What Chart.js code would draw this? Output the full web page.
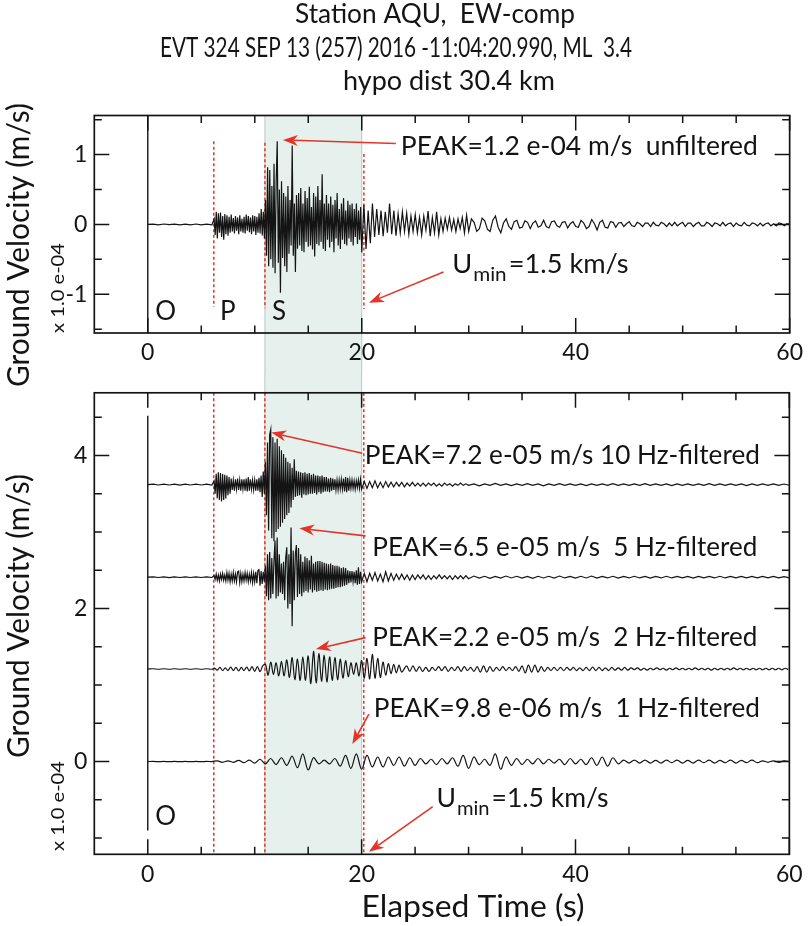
<!DOCTYPE html>
<html>
<head>
<meta charset="utf-8">
<title>Station AQU EW-comp</title>
<script src="https://cdn.jsdelivr.net/npm/chart.js@4.4.1/dist/chart.umd.min.js"></script>
<style>
  html, body { margin: 0; padding: 0; background: #fff; }
  #wrap { position: relative; width: 809px; height: 926px; overflow: hidden; }
  #wrap canvas { position: absolute; left: 0; }
  #topChart { top: 0; width: 809px; height: 400px; }
  #bottomChart { top: 372px; width: 809px; height: 554px; }
</style>
</head>
<body>
<div id="wrap">
  <canvas id="topChart" width="809" height="400"></canvas>
  <canvas id="bottomChart" width="809" height="554"></canvas>
</div>
<script>
// ---- picks and window (s) ----
const pickTimes = [6.17, 10.95, 20.2];      // P, S, Umin=1.5 km/s
const shadeWindow = [10.95, 20.0];

// ---- axis ticks ----
const xMajorTicks = [0, 20, 40, 60];
const xMinorTicks = [5, 10, 15, 25, 30, 35, 45, 50, 55];
const topMajorTicks = [-1, 0, 1];
const topMinorTicks = [-1.5, -0.5, 0.5, 1.5];
const bottomMajorTicks = [0, 2, 4];
const bottomMinorTicks = [-1, -0.5, 0.5, 1, 1.5, 2.5, 3, 3.5, 4.5];

// ---- unfiltered trace (x 1e-4 m/s) ----
const unfiltQuiet = [0, 0.005, -0.005, 0.006, -0.004, 0.005, -0.006, 0.004, -0.005, 0.006, -0.005, 0.005, -0.006]; // 0-6 s, 0.5 s
const unfiltP = [0.08, -0.15, 0.18, -0.2, 0.16, -0.12, 0.17, -0.18, 0.12, -0.22,
  0.15, -0.14, 0.13, -0.16, 0.11, -0.12, 0.14, -0.1, 0.09, -0.13,
  0.12, -0.09, 0.1, -0.14, 0.13, -0.1, 0.08, -0.12, 0.11, -0.13,
  0.14, -0.09, 0.12, -0.11, 0.1, -0.14, 0.13, -0.1, 0.12, -0.15,
  0.11, -0.12, 0.16, -0.13, 0.22, -0.16, 0.18, -0.2]; // 6.2-10.9 s, 0.1 s
const unfiltS = [0.35, -0.45, 0.82, -0.6, 0.78, -0.5, 0.55, -0.62, 0.87, -0.7,
  0.6, 1.19, -0.55, 0.5, -0.98, 0.62, -0.48, 0.45, -0.6, 0.4,
  -0.68, 0.55, -0.42, 0.35, -0.3, 1.13, -0.45, 0.3, -0.68, 0.42,
  -0.35, 0.45, -0.3, 0.52, -0.38, 0.3, -0.4, 0.48, -0.25, 0.38,
  -0.32, 0.54, -0.3, 0.25, -0.36, 0.45, -0.46, 0.4, -0.28, 0.55,
  -0.3, 0.35, -0.25, 0.72, -0.35, 0.3, -0.38, 0.42, -0.22, 0.3,
  -0.33, 0.4, -0.25, 0.28, -0.4, 0.35, -0.2, 0.45, -0.3, 0.22,
  -0.35, 0.3, -0.22, 0.38, -0.28, 0.2, -0.3, 0.34, -0.2, 0.28,
  -0.25, 0.3, -0.3, 0.22, -0.18, 0.3, -0.28, 0.2, -0.22, 0.25,
  -0.4]; // 11-20 s, 0.1 s
const unfiltCoda = [0.28, -0.35, 0.2, -0.27, 0.3, -0.18, 0.22, -0.15, 0.2, -0.17,
  0.18, -0.12, 0.3, -0.14, 0.2, -0.16, 0.15, -0.12, 0.18, -0.1,
  0.16, -0.14, 0.12, -0.1, 0.14, -0.12, 0.1, -0.15, 0.12, -0.08,
  0.19, -0.17, 0.1, -0.12, 0.18, -0.15, 0.08, -0.1, 0.09, -0.07,
  0.1, -0.08, 0.07, -0.1, 0.08, -0.06, 0.1, -0.12, 0.13, -0.1]; // 20.2-30 s, 0.2 s
const unfiltTail = [0.08, 0.03, -0.1, -0.06, 0.09, 0.05, -0.07, -0.1, 0.06, 0.12, -0.04,
  -0.12, 0.02, 0.08, -0.03, -0.07, 0.04, 0.06, -0.05, -0.04, 0.05,
  0.03, -0.06, 0.02, 0.05, -0.04, -0.02, 0.06, -0.03, -0.05, 0.04,
  0.05, -0.02, -0.04, 0.03, 0.04, -0.05, 0.01, 0.04, -0.03, -0.04,
  0.06, 0.02, -0.06, -0.03, 0.07, 0.01, -0.08, 0.03, 0.06, -0.04,
  -0.05, 0.04, 0.03, -0.04, 0.02, 0.03, -0.03, 0.01, 0.04, -0.02,
  -0.03, 0.03, 0.01, -0.03, 0.02, 0.02, -0.03, 0.03, -0.01, -0.02,
  0.03, 0.01, -0.03, 0.02, -0.02, 0.03, -0.02, 0.01, 0.03, -0.03,
  0.02, 0.02, -0.03, 0.01, 0.03, -0.02, -0.02, 0.03, 0.01, -0.03,
  0.02, 0.01, -0.02, 0.03, -0.02, 0.01, 0.02, -0.03, 0.02, -0.01,
  -0.02, 0.03, -0.01, -0.02, 0.02, 0.01, -0.02, 0.02, -0.02, 0.01,
  0.02, -0.02, 0.01, -0.02, 0.02, 0.01, -0.02, 0.01, 0]; // 30.25-60 s, 0.25 s

// ---- 10 Hz-filtered ----
const hz10Quiet = [0, 0.005, -0.005, 0.006, -0.005, 0.005, -0.006, 0.005, -0.005, 0.006, -0.005, 0.005, -0.005];
const hz10P = [0.05, -0.12, 0.14, -0.18, 0.16, -0.2, 0.15, -0.22, 0.14, -0.2,
  0.13, -0.18, 0.12, -0.14, 0.1, -0.12, 0.08, -0.07, 0.06, -0.08,
  0.07, -0.06, 0.08, -0.07, 0.06, -0.08, 0.07, -0.06, 0.07, -0.08,
  0.08, -0.09, 0.1, -0.08, 0.07, -0.06, 0.06, -0.07, 0.06, -0.08,
  0.07, -0.08, 0.09, -0.1, 0.12, -0.16, 0.17, -0.12];
const hz10S = [0.3, -0.4, 0.55, -0.6, 0.65, 0.72, -0.7, 0.62, -0.74, 0.55,
  -0.62, 0.6, -0.58, 0.5, -0.55, 0.45, -0.5, 0.4, -0.45, 0.35,
  -0.4, 0.3, -0.37, 0.28, -0.3, 0.22, -0.2, 0.33, -0.16, 0.18,
  -0.15, 0.17, -0.14, 0.16, -0.17, 0.15, -0.13, 0.16, -0.14, 0.14,
  -0.13, 0.15, -0.12, 0.13, -0.12, 0.14, -0.11, 0.12, -0.13, 0.12,
  -0.1, 0.11, -0.12, 0.12, -0.1, 0.1, -0.09, 0.1, -0.09, 0.08,
  -0.1, 0.09, -0.08, 0.08, -0.07, 0.07, -0.07, 0.06, -0.07, 0.06,
  -0.06, 0.07, -0.06, 0.08, -0.09, 0.1, -0.1, 0.09, -0.08, 0.06,
  -0.05, 0.06, -0.05, 0.05, -0.06, 0.05, -0.04, 0.06, -0.05, 0.07,
  -0.06];
const hz10Coda = [0.04, -0.05, 0.04, -0.04, 0.05, -0.04, 0.03, -0.04, 0.04, -0.03,
  0.03, -0.03, 0.03, -0.02, 0.03, -0.03, 0.02, -0.02, 0.03, -0.02,
  0.02, -0.02, 0.02, -0.02, 0.02, -0.01, 0.02, -0.02, 0.01, -0.02,
  0.02, -0.01, 0.01, -0.02, 0.01, -0.01, 0.02, -0.01, 0.01, -0.01]; // 20.25-30 s, 0.25 s
const hz10Tail = [0.01, -0.015, 0.01, -0.01, 0.015, -0.01, 0.01, -0.012, 0.01, -0.01,
  0.012, -0.01, 0.01, -0.015, 0.01, -0.01, 0.012, -0.01, 0.01, -0.01,
  0.01, -0.012, 0.01, -0.01, 0.01, -0.01, 0.012, -0.01, 0.01, -0.01,
  0.01, -0.01, 0.012, -0.01, 0.01, -0.01, 0.01, -0.012, 0.01, -0.01,
  0.01, -0.01, 0.01, -0.01, 0.012, -0.01, 0.01, -0.01, 0.01, -0.01,
  0.01, -0.012, 0.01, -0.01, 0.01, -0.01, 0.01, -0.01, 0.008, -0.008]; // 30.5-60 s, 0.5 s

// ---- 5 Hz-filtered ----
const hz5Quiet = [0, 0.004, -0.004, 0.004, -0.005, 0.004, -0.004, 0.005, -0.004, 0.004, -0.004, 0.005, -0.004];
const hz5P = [0.02, -0.03, 0.04, -0.04, 0.03, -0.05, 0.04, -0.03, 0.05, -0.04,
  0.03, -0.05, 0.06, -0.04, 0.05, -0.06, 0.04, -0.05, 0.06, -0.05,
  0.04, -0.06, 0.07, 0.08, -0.07, 0.05, -0.06, 0.04, -0.05, 0.06,
  -0.04, 0.05, -0.06, 0.04, -0.05, 0.06, -0.07, 0.05, -0.06, 0.07,
  -0.08, 0.09, 0.1, -0.11, 0.08, -0.09, 0.07, -0.06];
const hz5S = [0.15, -0.25, 0.3, -0.3, 0.33, -0.28, 0.25, -0.22, 0.2, 0.48,
  -0.28, 0.52, -0.25, 0.3, -0.2, 0.18, -0.22, 0.2, -0.3, 0.25,
  0.39, -0.41, 0.3, -0.35, 0.65, -0.64, 0.35, -0.3, 0.3, 0.42,
  -0.26, 0.38, -0.22, 0.3, -0.25, 0.2, -0.2, 0.27, -0.18, 0.25,
  -0.2, 0.22, -0.16, 0.28, -0.2, 0.18, -0.17, 0.2, -0.19, 0.21,
  -0.18, 0.21, -0.17, 0.2, -0.18, 0.19, -0.16, 0.18, -0.17, 0.17,
  -0.16, 0.18, -0.15, 0.16, -0.15, 0.15, -0.14, 0.15, -0.13, 0.14,
  -0.13, 0.12, -0.12, 0.13, -0.11, 0.12, -0.1, 0.09, -0.08, 0.08,
  -0.07, 0.08, -0.06, 0.07, -0.08, 0.09, -0.1, 0.13, -0.09, 0.07,
  -0.06];
const hz5Coda = [0.05, -0.06, 0.05, -0.04, 0.06, -0.05, 0.04, -0.06, 0.07, -0.05,
  0.05, -0.04, 0.04, -0.03, 0.04, -0.03, 0.03, -0.04, 0.03, -0.03,
  0.03, -0.02, 0.03, -0.03, 0.02, -0.03, 0.02, -0.02, 0.03, -0.02,
  0.02, -0.02, 0.02, -0.03, 0.02, -0.02, 0.02, -0.02, 0.02, -0.02];
const hz5Tail = [0.015, -0.012, 0.012, -0.015, 0.01, -0.012, 0.015, -0.01, 0.012, -0.012,
  0.01, -0.015, 0.012, -0.01, 0.012, -0.012, 0.015, -0.01, 0.01, -0.012,
  0.012, -0.01, 0.015, -0.012, 0.01, -0.01, 0.012, -0.012, 0.01, -0.01,
  0.012, -0.01, 0.01, -0.012, 0.01, -0.01, 0.012, -0.01, 0.01, -0.01,
  0.01, -0.012, 0.01, -0.01, 0.01, -0.01, 0.012, -0.01, 0.01, -0.01,
  0.01, -0.01, 0.01, -0.01, 0.01, -0.01, 0.01, -0.01, 0.008, -0.008];

// ---- 2 Hz-filtered ----
const hz2Quiet = [0, 0.003, -0.003, 0.003, -0.003, 0.003, -0.003, 0.003, -0.003, 0.003, -0.003, 0.003, -0.003];
const hz2P = [0.01, -0.015, 0.02, -0.02, 0.015, -0.02, 0.025, -0.02, 0.02, -0.025,
  0.02, -0.02, 0.025, -0.025, 0.03, -0.03, 0.03, -0.035, 0.04]; // 6.25-10.75 s, 0.25 s
const hz2S = [0.06, -0.08, 0.09, -0.07, 0.08, -0.09, 0.1, -0.09,
  0.12, -0.11, 0.15, -0.14, 0.13, -0.15, 0.16, -0.15,
  0.17, -0.19, 0.23, -0.18, 0.2, -0.16, 0.18, -0.17,
  0.16, -0.15, 0.15, -0.14, 0.13, -0.12, 0.11, -0.1,
  0.08, -0.07, 0.08, -0.09, 0.11, -0.12, 0.14, -0.13,
  0.19, -0.12, 0.14, -0.11, 0.09, -0.08, 0.07, -0.06,
  0.06, -0.05, 0.05, -0.04]; // 11-23.75 s, 0.25 s
const hz2Tail = [0.04, -0.03, 0.04, -0.03, 0.03, -0.03, 0.02, -0.03, 0.02, -0.02, 0.03,
  -0.02, 0.03, -0.03, 0.02, -0.02, 0.03, -0.03, 0.03, -0.02, 0.02, -0.03,
  0.03, -0.04, 0.04, -0.04, 0.03, -0.03, 0.02, -0.02, 0.03, -0.02, 0.02,
  -0.02, 0.03, -0.03, 0.04, -0.05, 0.05, -0.04, 0.05, -0.04, 0.03, -0.03,
  0.02, -0.02, 0.02, -0.02, 0.02, -0.02, 0.02, -0.015, 0.02, -0.02, 0.015,
  -0.02, 0.02, -0.02, 0.025, -0.02, 0.02, -0.02, 0.015, -0.02, 0.02, -0.015,
  0.015, -0.015, 0.02, -0.015, 0.015, -0.01, 0.015, -0.015, 0.01, -0.015, 0.01,
  -0.01, 0.015, -0.01, 0.01, -0.015, 0.01, -0.01, 0.015, -0.01, 0.01, -0.01,
  0.01, -0.01, 0.015, -0.01, 0.01, -0.01, 0.01, -0.015, 0.01, -0.01, 0.01,
  -0.01, 0.01, -0.01, 0.015, -0.01, 0.01, -0.01, 0.01, -0.01, 0.01, -0.01,
  0.01, -0.01, 0.01, -0.01, 0.01, -0.01, 0.01, -0.01, 0.01, -0.01]; // 24.2-59.9 s, 0.3 s

// ---- 1 Hz-filtered ----
const hz1Quiet = [0, 0.002, -0.002, 0.002, -0.002, 0.002, -0.002, 0.002, -0.002, 0.002, -0.002, 0.002]; // 0-5.5 s
const hz1Main = [0, 0.01, -0.01, 0.01, -0.01, 0.015, -0.015, 0.02, -0.02, 0.03,
  -0.03, 0.04, -0.04, 0.05, -0.05, 0.07, -0.08, 0.1, -0.11, 0.05,
  -0.03, 0.02, -0.03, 0.04, -0.06, 0.08, -0.09, 0.1, -0.1, 0.08,
  -0.07, 0.06, -0.07, 0.06, -0.05, 0.06, -0.06, 0.05, -0.05, 0.04,
  -0.03, 0.03, -0.04, 0.04, -0.03, 0.05, -0.06, 0.08, -0.09, 0.06,
  -0.04, 0.03, -0.05, 0.1, -0.1, 0.06, -0.05, 0.04, -0.04, 0.03,
  -0.03, 0.04, -0.03, 0.03, -0.02, 0.03, -0.04, 0.04, -0.03, 0.03,
  -0.04, 0.05, -0.05, 0.06, -0.06, 0.05, -0.03, 0.02, -0.02, 0.02,
  -0.02, 0.02, -0.02, 0.015, -0.02, 0.02, -0.015, 0.02, -0.02, 0.015,
  -0.02, 0.02, -0.015, 0.02, -0.02, 0.015, -0.015, 0.02, -0.02, 0.015,
  -0.015, 0.02, -0.015, 0.01, -0.01, 0.01, -0.01, 0.01, 0]; // 6-60 s, 0.5 s

// vertical offsets of the stacked filtered traces (x 1e-4)
const traceOffsets = { hz10: 3.62, hz5: 2.41, hz2: 1.21, hz1: 0 };

// ---- helpers ----
function seg(start, step, vals, offset) {
  return vals.map((v, i) => ({ x: +(start + i * step).toFixed(3), y: v + offset }));
}
function joinSegs(list, offset) {
  return list.flatMap(s => seg(s[0], s[1], s[2], offset));
}

const unfilteredPts = joinSegs([[0, 0.5, unfiltQuiet], [6.2, 0.1, unfiltP], [11, 0.1, unfiltS],
  [20.2, 0.2, unfiltCoda], [30.25, 0.25, unfiltTail]], 0);
const hz10Pts = joinSegs([[0, 0.5, hz10Quiet], [6.2, 0.1, hz10P], [11, 0.1, hz10S],
  [20.25, 0.25, hz10Coda], [30.5, 0.5, hz10Tail]], traceOffsets.hz10);
const hz5Pts = joinSegs([[0, 0.5, hz5Quiet], [6.2, 0.1, hz5P], [11, 0.1, hz5S],
  [20.25, 0.25, hz5Coda], [30.5, 0.5, hz5Tail]], traceOffsets.hz5);
const hz2Pts = joinSegs([[0, 0.5, hz2Quiet], [6.25, 0.25, hz2P], [11, 0.25, hz2S],
  [24.2, 0.3, hz2Tail]], traceOffsets.hz2);
const hz1Pts = joinSegs([[0, 0.5, hz1Quiet], [6, 0.5, hz1Main]], traceOffsets.hz1);

const FONT = 'Lato, "Open Sans", sans-serif';
const RED = '#e4342a';
const INK = '#141414';

// draw text; when a width is given the string is scaled horizontally to that width
function text(ctx, str, x, y, size, opts) {
  opts = opts || {};
  ctx.save();
  ctx.font = size + 'px ' + FONT;
  ctx.fillStyle = opts.color || INK;
  ctx.textBaseline = 'middle';
  ctx.textAlign = opts.align || 'left';
  const sx = opts.width ? opts.width / ctx.measureText(str).width : (opts.squeeze || 1);
  ctx.translate(x, y);
  if (opts.rotate) ctx.rotate(opts.rotate);
  ctx.scale(sx, 1);
  ctx.fillText(str, 0, 0);
  ctx.restore();
  return sx;
}
function textWidth(ctx, str, size) {
  ctx.save();
  ctx.font = size + 'px ' + FONT;
  const w = ctx.measureText(str).width;
  ctx.restore();
  return w;
}
function arrow(ctx, x1, y1, x2, y2) {
  const ang = Math.atan2(y2 - y1, x2 - x1), L = 15, W = 5.5;
  const c = Math.cos(ang), s = Math.sin(ang);
  ctx.beginPath();
  ctx.moveTo(x1, y1);
  ctx.lineTo(x2 - L * 0.7 * c, y2 - L * 0.7 * s);
  ctx.stroke();
  ctx.beginPath();
  ctx.moveTo(x2, y2);
  ctx.lineTo(x2 - L * c + W * s, y2 - L * s - W * c);
  ctx.lineTo(x2 - L * 0.7 * c, y2 - L * 0.7 * s);
  ctx.lineTo(x2 - L * c - W * s, y2 - L * s + W * c);
  ctx.closePath();
  ctx.fill();
}
function umin(ctx, x, y, size, restWidth) {
  const sx = restWidth / textWidth(ctx, '=1.5 km/s', size);
  const wU = textWidth(ctx, 'U', size) * sx;
  text(ctx, 'U', x, y, size, { squeeze: sx });
  const sub = size * 0.76;
  const wMin = textWidth(ctx, 'min', sub) * sx;
  text(ctx, 'min', x + wU + 1, y + 10, sub, { squeeze: sx });
  text(ctx, '=1.5 km/s', x + wU + wMin + 3, y, size, { squeeze: sx });
}

// panel decorations (positions in data units of each panel)
const decorConfig = {
  topChart: {
    shadeTop: 'area', shadeBottom: 372,
    yMajor: topMajorTicks, yMinor: topMinorTicks,
    zeroLine: null,
    picks: [[1.19, -1.18], [1.17, -1.2], [1.01, -1.21]],
    arrows: [[23.19, 1.16, 12.63, 1.21], [27.64, -0.68, 20.68, -1.12]],
    notes: [['PEAK=1.2 e-04 m/s  unfiltered', 23.65, 1.11, 357]],
    umin: [28.45, -0.58, 120],
    letters: [['O', 0.7, -1.25], ['P', 6.76, -1.25], ['S', 11.6, -1.25]],
    yTitleY: 245, scaleNoteY: 288
  },
  bottomChart: {
    shadeTop: 0, shadeBottom: 'area',
    yMajor: bottomMajorTicks, yMinor: bottomMinorTicks,
    zeroLine: [4.52, -0.9],
    picks: null,
    arrows: [[20.06, 4.03, 11.55, 4.30], [20.37, 2.95, 14.18, 3.05], [20.37, 1.62, 15.73, 1.47],
      [20.68, 0.62, 19.13, 0.23], [26.65, -0.59, 20.68, -1.18]],
    notes: [['PEAK=7.2 e-05 m/s 10 Hz-filtered', 20.3, 4.0, 395], ['PEAK=6.5 e-05 m/s  5 Hz-filtered', 21.0, 2.8, 385],
      ['PEAK=2.2 e-05 m/s  2 Hz-filtered', 21.0, 1.62, 385], ['PEAK=9.8 e-06 m/s  1 Hz-filtered', 21.14, 0.7, 386]],
    umin: [26.99, -0.485, 117],
    letters: [['O', 0.7, -0.72]],
    yTitleY: 616 - 372, scaleNoteY: 806 - 372
  }
};

const decor = {
  id: 'decor',
  beforeDraw(chart) {
    const cfg = decorConfig[chart.canvas.id];
    const { ctx, chartArea: a, scales: { x } } = chart;
    const x0 = x.getPixelForValue(shadeWindow[0]), x1 = x.getPixelForValue(shadeWindow[1]);
    const top = cfg.shadeTop === 'area' ? a.top : cfg.shadeTop;
    const bottom = cfg.shadeBottom === 'area' ? a.bottom : cfg.shadeBottom;
    ctx.save();
    ctx.fillStyle = '#e6f1ee';
    ctx.fillRect(x0, top, x1 - x0, bottom - top);
    ctx.strokeStyle = '#bcc6c3';
    ctx.lineWidth = 1;
    ctx.beginPath();
    ctx.moveTo(x0, top); ctx.lineTo(x0, bottom);
    ctx.moveTo(x1, top); ctx.lineTo(x1, bottom);
    ctx.stroke();
    ctx.restore();
  },
  beforeDatasetsDraw(chart) {
    const cfg = decorConfig[chart.canvas.id];
    const { ctx, chartArea: a, scales: { x, y } } = chart;
    ctx.save();
    // origin-time line
    const x0 = x.getPixelForValue(0);
    ctx.strokeStyle = INK;
    ctx.lineWidth = 1.4;
    ctx.beginPath();
    if (cfg.zeroLine) {
      ctx.moveTo(x0, y.getPixelForValue(cfg.zeroLine[0]));
      ctx.lineTo(x0, y.getPixelForValue(cfg.zeroLine[1]));
    } else {
      ctx.moveTo(x0, a.top); ctx.lineTo(x0, a.bottom);
    }
    ctx.stroke();
    // P, S, Umin picks
    ctx.strokeStyle = RED;
    ctx.lineWidth = 1.5;
    ctx.setLineDash([3, 2.5]);
    pickTimes.forEach((t, i) => {
      const px = x.getPixelForValue(t);
      const y1 = cfg.picks ? y.getPixelForValue(cfg.picks[i][0]) : a.top;
      const y2 = cfg.picks ? y.getPixelForValue(cfg.picks[i][1]) : a.bottom;
      ctx.beginPath(); ctx.moveTo(px, y1); ctx.lineTo(px, y2); ctx.stroke();
    });
    ctx.restore();
  },
  afterDraw(chart) {
    const cfg = decorConfig[chart.canvas.id];
    const { ctx, chartArea: a, scales: { x, y } } = chart;
    ctx.save();
    // frame and inward ticks
    ctx.strokeStyle = INK;
    ctx.lineWidth = 1.7;
    ctx.strokeRect(a.left, a.top, a.right - a.left, a.bottom - a.top);
    ctx.lineWidth = 1.5;
    ctx.beginPath();
    const xt = (v, len) => {
      const px = x.getPixelForValue(v);
      ctx.moveTo(px, a.bottom); ctx.lineTo(px, a.bottom - len);
      ctx.moveTo(px, a.top); ctx.lineTo(px, a.top + len);
    };
    const yt = (v, len) => {
      const py = y.getPixelForValue(v);
      ctx.moveTo(a.left, py); ctx.lineTo(a.left + len, py);
      ctx.moveTo(a.right, py); ctx.lineTo(a.right - len, py);
    };
    xMajorTicks.forEach(v => xt(v, 15));
    xMinorTicks.forEach(v => xt(v, 7.5));
    cfg.yMajor.forEach(v => yt(v, 15));
    cfg.yMinor.forEach(v => yt(v, 7.5));
    ctx.stroke();

    // arrows and notes
    ctx.strokeStyle = RED;
    ctx.fillStyle = RED;
    ctx.lineWidth = 1.6;
    cfg.arrows.forEach(r => arrow(ctx, x.getPixelForValue(r[0]), y.getPixelForValue(r[1]),
      x.getPixelForValue(r[2]), y.getPixelForValue(r[3])));
    cfg.notes.forEach(n => text(ctx, n[0], x.getPixelForValue(n[1]), y.getPixelForValue(n[2]), 26.5, { width: n[3] }));
    umin(ctx, x.getPixelForValue(cfg.umin[0]), y.getPixelForValue(cfg.umin[1]), 26.5, cfg.umin[2]);
    cfg.letters.forEach(l => text(ctx, l[0], x.getPixelForValue(l[1]), y.getPixelForValue(l[2]), 26));

    // axis titles
    text(ctx, 'Ground Velocity (m/s)', 19, cfg.yTitleY, 30, { align: 'center', rotate: -Math.PI / 2, width: 284 });
    text(ctx, 'x 1.0 e-04', 58, cfg.scaleNoteY, 18, { align: 'center', rotate: -Math.PI / 2, width: 90 });
    if (chart.canvas.id === 'topChart') {
      text(ctx, 'Station AQU,  EW-comp', 435, 15, 26, { align: 'center', width: 280 });
      text(ctx, 'EVT 324 SEP 13 (257) 2016 -11:04:20.990, ML  3.4', 396, 48.5, 26, { align: 'center', width: 472 });
      text(ctx, 'hypo dist 30.4 km', 449, 81.5, 26, { align: 'center', width: 212 });
    } else {
      text(ctx, 'Elapsed Time (s)', 473, 906.7 - 372, 31, { align: 'center', width: 223 });
    }
    ctx.restore();
  }
};

function traceSet(points, smooth) {
  return {
    data: points,
    borderColor: INK,
    borderWidth: 1.2,
    pointRadius: 0,
    fill: false,
    tension: smooth ? 0.35 : 0
  };
}

function panelOptions(yMin, yMax, yTicks, padTop, xHeight, xPad) {
  return {
    responsive: false,
    animation: false,
    events: [],
    layout: { padding: { top: padTop, right: 18.5, left: 0, bottom: 0 } },
    plugins: { legend: { display: false }, tooltip: { enabled: false } },
    scales: {
      x: {
        type: 'linear', min: -5, max: 60,
        grid: { display: false, drawTicks: false }, border: { display: false },
        ticks: { font: { size: 23, family: FONT }, color: INK, padding: xPad, maxRotation: 0, autoSkip: false },
        afterBuildTicks: s => { s.ticks = xMajorTicks.map(v => ({ value: v })); },
        afterFit: s => { s.height = xHeight; }
      },
      y: {
        type: 'linear', min: yMin, max: yMax,
        grid: { display: false, drawTicks: false }, border: { display: false },
        ticks: { font: { size: 23, family: FONT }, color: INK, padding: 7 },
        afterBuildTicks: s => { s.ticks = yTicks.map(v => ({ value: v })); },
        afterFit: s => { s.width = 94.3; }
      }
    }
  };
}

new Chart(document.getElementById('topChart'), {
  type: 'line',
  data: { datasets: [traceSet(unfilteredPts, false)] },
  options: panelOptions(-1.555, 1.56, topMajorTicks, 115.5, 67, 6),
  plugins: [decor]
});

new Chart(document.getElementById('bottomChart'), {
  type: 'line',
  data: {
    datasets: [
      traceSet(hz10Pts, false),
      traceSet(hz5Pts, false),
      traceSet(hz2Pts, true),
      traceSet(hz1Pts, true)
    ]
  },
  options: panelOptions(-1.212, 4.82, bottomMajorTicks, 4.5, 71.7, 6.3),
  plugins: [decor]
});
</script>
</body>
</html>
